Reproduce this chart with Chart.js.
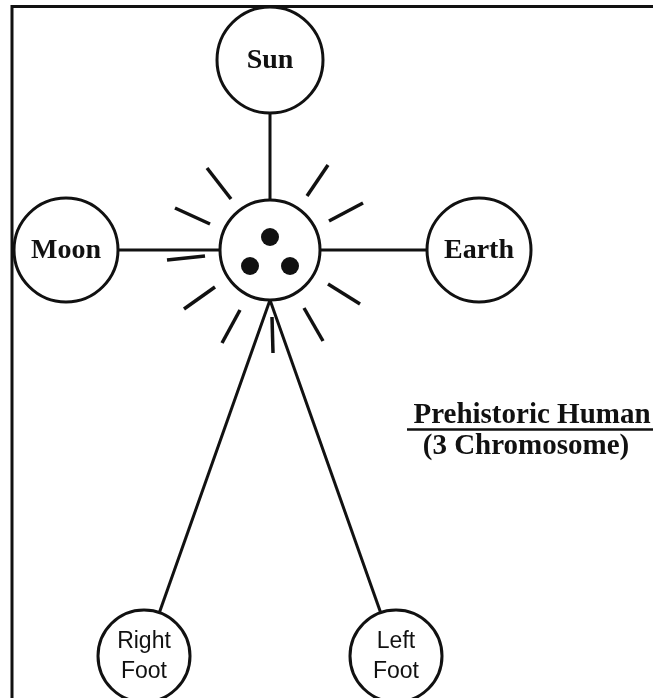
<!DOCTYPE html>
<html>
<head>
<meta charset="utf-8">
<script src="https://cdn.jsdelivr.net/npm/chart.js@4/dist/chart.umd.min.js"></script>
<style>
  html, body { margin: 0; padding: 0; background: #fff; }
  #wrap { width: 653px; height: 698px; position: relative; }
</style>
</head>
<body>
<div id="wrap"><canvas id="c"></canvas></div>
<script>
// ---- data ----
const nodeLabels = [["Sun"], ["Moon"], ["Earth"], [""], ["Right", "Foot"], ["Left", "Foot"]];
const nodeSerif  = [true, true, true, true, false, false];
const nodeX = [270, 66, 479, 270, 144, 396];
const nodeY = [60, 250, 250, 250, 656, 656];
const nodeR = [53, 52, 52, 50, 46, 46];

const dotX = [270, 250, 290];
const dotY = [237, 266, 266];
const dotR = [9, 9, 9];

// connectors (start -> end)
const linkX1 = [270, 66, 479, 270, 270];
const linkY1 = [60, 250, 250, 300, 300];
const linkX2 = [270, 270, 270, 144, 396];
const linkY2 = [250, 250, 250, 656, 656];

// rays around the central circle
const rayX1 = [207, 175, 167, 215, 240, 272, 304, 328, 329, 307];
const rayY1 = [168, 208, 260, 287, 310, 317, 308, 284, 221, 196];
const rayX2 = [231, 210, 205, 184, 222, 273, 323, 360, 363, 328];
const rayY2 = [199, 224, 256, 309, 343, 353, 341, 304, 203, 165];

const titleLines = ["Prehistoric Human", "(3 Chromosome)"];

// ---- build datasets ----
const datasets = [];
for (let i = 0; i < linkX1.length; i++) {
  datasets.push({
    type: 'line',
    data: [{x: linkX1[i], y: linkY1[i]}, {x: linkX2[i], y: linkY2[i]}],
    borderColor: '#111', borderWidth: 3, pointRadius: 0, showLine: true,
    fill: false, order: 5, clip: false, borderCapStyle: 'butt'
  });
}
for (let i = 0; i < rayX1.length; i++) {
  datasets.push({
    type: 'line',
    data: [{x: rayX1[i], y: rayY1[i]}, {x: rayX2[i], y: rayY2[i]}],
    borderColor: '#111', borderWidth: 3.5, pointRadius: 0, showLine: true,
    fill: false, order: 5, clip: false, borderCapStyle: 'butt'
  });
}
datasets.push({
  type: 'bubble',
  data: nodeX.map((x, i) => ({x: x, y: nodeY[i], r: nodeR[i]})),
  backgroundColor: '#fff', borderColor: '#111', borderWidth: 3,
  hoverRadius: 0, hoverBorderWidth: 3, order: 2, clip: false
});
datasets.push({
  type: 'bubble',
  data: dotX.map((x, i) => ({x: x, y: dotY[i], r: dotR[i]})),
  backgroundColor: '#111', borderColor: '#111', borderWidth: 0,
  hoverRadius: 0, order: 1, clip: false
});

const decor = {
  id: 'decor',
  beforeDatasetsDraw(chart) {
    const ctx = chart.ctx;
    ctx.save();
    ctx.strokeStyle = '#111';
    ctx.lineWidth = 3;
    ctx.beginPath();
    ctx.moveTo(653, 6.5);
    ctx.lineTo(12, 6.5);
    ctx.lineTo(12, 698);
    ctx.stroke();
    ctx.restore();
  },
  afterDatasetsDraw(chart) {
    const ctx = chart.ctx;
    const xs = chart.scales.x, ys = chart.scales.y;
    ctx.save();
    ctx.fillStyle = '#111';
    ctx.textAlign = 'center';
    ctx.textBaseline = 'middle';
    nodeLabels.forEach((lines, i) => {
      const px = xs.getPixelForValue(nodeX[i]);
      const py = ys.getPixelForValue(nodeY[i]);
      if (nodeSerif[i]) {
        ctx.font = 'bold 28px "Liberation Serif", "Times New Roman", serif';
        ctx.fillText(lines[0], px, py + 1);
      } else {
        ctx.font = '23px "Liberation Sans", Arial, sans-serif';
        const lh = 30;
        lines.forEach((t, k) => {
          ctx.fillText(t, px, py + (k - (lines.length - 1) / 2) * lh + 1);
        });
      }
    });
    // title block
    ctx.font = 'bold 29px "Liberation Serif", "Times New Roman", serif';
    ctx.textBaseline = 'alphabetic';
    ctx.fillText(titleLines[0], 532, 423);
    ctx.font = 'bold 29px "Liberation Serif", "Times New Roman", serif';
    ctx.fillText(titleLines[1], 526, 454);
    ctx.lineWidth = 2.5;
    ctx.strokeStyle = '#111';
    ctx.beginPath();
    ctx.moveTo(407, 429.5);
    ctx.lineTo(653, 429.5);
    ctx.stroke();
    ctx.restore();
  }
};

new Chart(document.getElementById('c'), {
  type: 'scatter',
  data: { datasets: datasets },
  options: {
    responsive: true,
    maintainAspectRatio: false,
    animation: false,
    events: [],
    layout: { padding: 0, autoPadding: false },
    plugins: { legend: { display: false }, tooltip: { enabled: false }, title: { display: false } },
    scales: {
      x: { type: 'linear', min: 0, max: 653, display: false },
      y: { type: 'linear', min: 0, max: 698, reverse: true, display: false }
    }
  },
  plugins: [decor]
});
</script>
</body>
</html>
